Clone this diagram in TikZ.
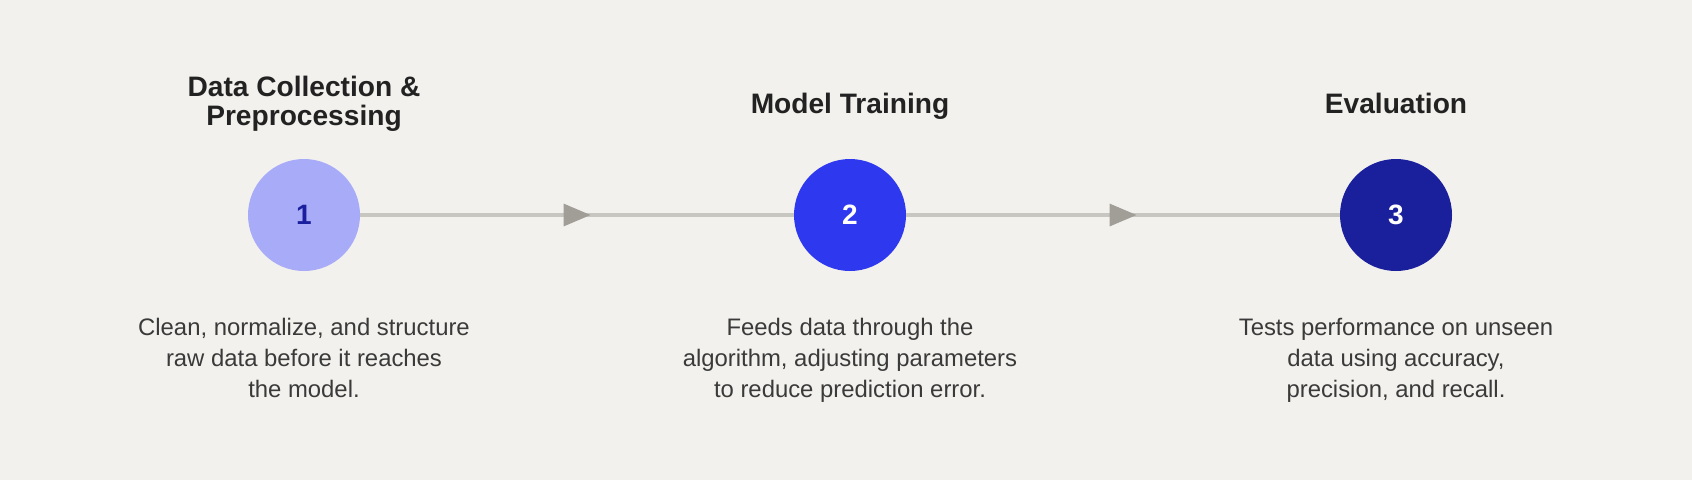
\documentclass[tikz,border=0pt]{standalone}
\usepackage{fontspec}
\setmainfont{Liberation Sans}
\usetikzlibrary{decorations.markings}
\definecolor{bgcol}{HTML}{F2F1ED}
\definecolor{linegray}{HTML}{C8C6C0}
\definecolor{arrowgray}{HTML}{A09E97}
\definecolor{cone}{HTML}{A8ABF8}
\definecolor{ctwo}{HTML}{2E38EE}
\definecolor{cthree}{HTML}{1A1F9C}
\definecolor{numdark}{HTML}{1A1F9E}
\definecolor{titlecol}{HTML}{222222}
\definecolor{desccol}{HTML}{3A3A3A}
\tikzset{
  stepcircle/.style={circle, minimum size=84pt, inner sep=0pt,
    font=\fontsize{21}{24}\selectfont\bfseries},
  titletext/.style={align=center, text=titlecol, anchor=base,
    font=\fontsize{21.1}{21.6}\selectfont\bfseries},
  desctext/.style={align=center, text=desccol, anchor=base,
    font=\fontsize{17.9}{23.25}\selectfont},
  flow/.style={draw=linegray, line width=3pt,
    postaction={decorate},
    decoration={markings, mark=at position 0.5 with
      {\fill[arrowgray] (10.1pt,0) -- (-10.1pt,8.6pt) -- (-10.1pt,-8.6pt) -- cycle;}}}
}
\begin{document}
\begin{tikzpicture}[x=0.75pt,y=-0.75pt]
  \fill[bgcol] (0,0) rectangle (1692,480);
  \useasboundingbox (0,0) rectangle (1692,480);

  \node[stepcircle, fill=cone, text=numdark] (c1) at (304,215) {1};
  \node[stepcircle, fill=ctwo, text=white] (c2) at (850,215) {2};
  \node[stepcircle, fill=cthree, text=white] (c3) at (1396,215) {3};

  \draw[flow] (c1) -- (c2);
  \draw[flow] (c2) -- (c3);

  \node[titletext] (t1) at (304,125) {Data Collection \&\\Preprocessing};
  \node[titletext] (t2) at (850,113) {Model Training};
  \node[titletext] (t3) at (1396,113) {Evaluation};

  \node[desctext] (d1) at (304,397) {Clean, normalize, and structure\\raw data before it reaches\\the model.};
  \node[desctext] (d2) at (850,397) {Feeds data through the\\algorithm, adjusting parameters\\to reduce prediction error.};
  \node[desctext] (d3) at (1396,397) {Tests performance on unseen\\data using accuracy,\\precision, and recall.};
\end{tikzpicture}
\end{document}
